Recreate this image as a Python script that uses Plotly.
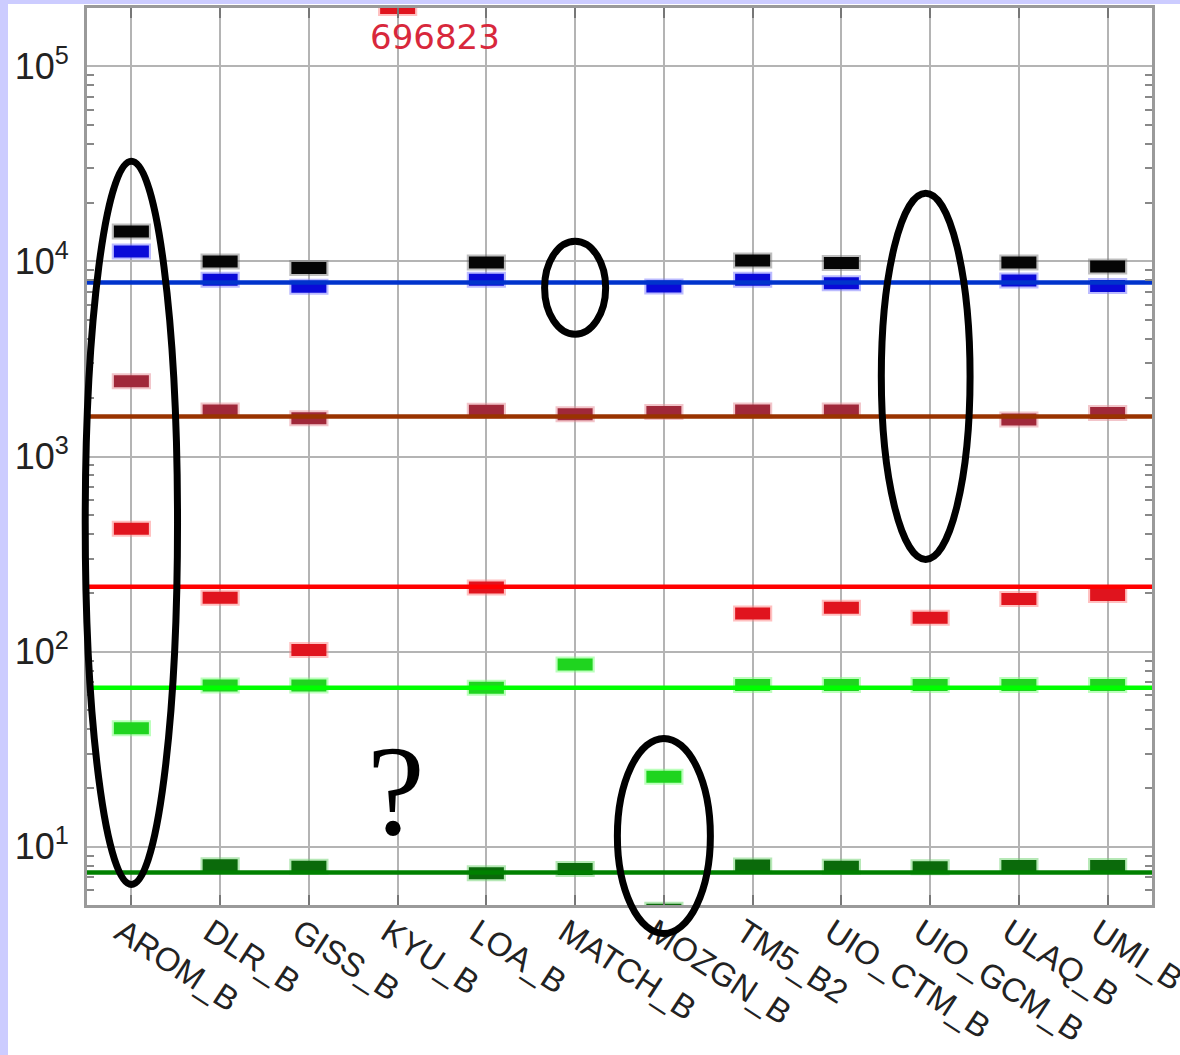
import math
import plotly.graph_objects as go

# ---- data -------------------------------------------------------------
models = ["AROM_B", "DLR_B", "GISS_B", "KYU_B", "LOA_B", "MATCH_B",
          "MOZGN_B", "TM5_B2", "UIO_CTM_B", "UIO_GCM_B", "ULAQ_B", "UMI_B"]

black_vals = [14250, 10000, 9250, None, 9880, None, None, 10120, 9810, None, 9880, 9430]
blue_vals = [11260, 8060, 7420, None, 8060, None, 7440, 8060, 7740, None, 7990, 7480]
brown_vals = [2430, 1720, 1570, None, 1715, 1650, 1690, 1720, 1720, None, 1550, 1670]
red_vals = [426, 189, 102, 696823, 213, None, None, 157, 168, 149, 186, 195]
green_vals = [40.5, 67, 67, None, 65.2, 86, 22.8, 67.5, 67.5, 67.5, 67.5, 67.5]
darkgreen_vals = [None, 8.03, 7.9, None, 7.31, 7.69, 4.75, 8.0, 7.9, 7.84, 7.95, 7.95]

# reference level for each quantity
ref_blue = 7800
ref_brown = 1603
ref_red = 215
ref_green = 65.3
ref_darkgreen = 7.38

y_ticks = [10, 100, 1000, 10000, 100000]
y_tick_text = ["10<sup>1</sup>", "10<sup>2</sup>", "10<sup>3</sup>",
               "10<sup>4</sup>", "10<sup>5</sup>"]

# ---- layout geometry --------------------------------------------------
W, H = 1180, 1055
M_L, M_R, M_T, M_B = 87, 28, 8, 150
LOG_MIN, LOG_MAX = 0.701, 5.2995
Y_TOP = 10 ** LOG_MAX
n = len(models)


def xpaper(xi):
    return (xi + 0.5) / n


def ypaper(v):
    return (math.log10(v) - LOG_MIN) / (LOG_MAX - LOG_MIN)


def pix_x(p):
    return (p - M_L) / (W - M_L - M_R)


def pix_y(p):
    return (H - M_B - p) / (H - M_T - M_B)


series = [
    ("black", black_vals, "#050505", "rgba(110,110,110,0.45)"),
    ("blue", blue_vals, "#0a0ad8", "rgba(120,120,255,0.5)"),
    ("brown", brown_vals, "#a0283a", "rgba(230,140,150,0.5)"),
    ("red", red_vals, "#e0141e", "rgba(255,130,130,0.5)"),
    ("green", green_vals, "#1fd41f", "rgba(120,255,120,0.5)"),
    ("darkgreen", darkgreen_vals, "#0b6a0b", "rgba(110,210,110,0.5)"),
]

refs = [
    (ref_blue, "#0033cc"),
    (ref_brown, "#993300"),
    (ref_red, "#ff0000"),
    (ref_green, "#00ff00"),
    (ref_darkgreen, "#008000"),
]

fig = go.Figure()

x_idx = list(range(n))
annotations = []
for name, vals, core, halo in series:
    xs = [i for i, v in zip(x_idx, vals) if v is not None]
    # values above the top of the axis are pinned to the frame and labelled
    ys = [min(v, Y_TOP) for v in vals if v is not None]
    fig.add_trace(go.Scatter(
        x=xs, y=ys, mode="markers", name=name + " halo", hoverinfo="skip",
        marker=dict(symbol="line-ew", size=28, line=dict(width=16, color=halo)),
    ))
    fig.add_trace(go.Scatter(
        x=xs, y=ys, mode="markers", name=name,
        marker=dict(symbol="line-ew", size=25, line=dict(width=12, color=core)),
    ))
    for i, v in zip(x_idx, vals):
        if v is not None and v > Y_TOP:
            annotations.append(dict(
                x=i, y=1, xref="x", yref="paper", text=str(v), showarrow=False,
                xanchor="center", yanchor="middle", xshift=37, yshift=-29,
                font=dict(family="DejaVu Sans", size=34, color="#d8283c"),
            ))

for level, color in refs:
    fig.add_trace(go.Scatter(
        x=[-0.5, n - 0.5], y=[level, level], mode="lines", hoverinfo="skip",
        line=dict(color=color, width=4.5), showlegend=False,
    ))

# question mark over the model without results
annotations.append(dict(
    x=3, y=math.log10(19.5), xref="x", yref="y", text="?", showarrow=False,
    xanchor="center", yanchor="middle", xshift=-2,
    font=dict(family="Liberation Serif", size=130, color="black"),
))

# highlighted groups (centre, half width, low value, high value)
ellipses = [
    (0.0, 0.52, 6.4, 32660),
    (5.0, 0.344, 4240, 12700),
    (8.95, 0.50, 297, 22400),
    (6.0, 0.524, 3.59, 35.9),
]
shapes = []
for cx, hw, lo, hi in ellipses:
    shapes.append(dict(
        type="circle", xref="paper", yref="paper",
        x0=xpaper(cx - hw), x1=xpaper(cx + hw), y0=ypaper(lo), y1=ypaper(hi),
        line=dict(color="black", width=7), fillcolor="rgba(0,0,0,0)", layer="above",
    ))

# lavender page edge along the left and top
lav = "#ccccff"
shapes.append(dict(type="rect", xref="paper", yref="paper", layer="below",
                   x0=pix_x(0), x1=pix_x(8), y0=pix_y(H), y1=pix_y(0),
                   line=dict(width=0), fillcolor=lav))
shapes.append(dict(type="rect", xref="paper", yref="paper", layer="below",
                   x0=pix_x(0), x1=pix_x(W), y0=pix_y(4), y1=pix_y(0),
                   line=dict(width=0), fillcolor=lav))

minor_vals = [m * 10 ** d for d in range(0, 6) for m in range(2, 10)]

fig.update_layout(
    width=W, height=H, autosize=False,
    margin=dict(l=M_L, r=M_R, t=M_T, b=M_B, pad=0),
    paper_bgcolor="white", plot_bgcolor="white",
    showlegend=False,
    shapes=shapes, annotations=annotations,
    xaxis=dict(
        range=[-0.5, n - 0.5], tickmode="array", tickvals=x_idx, ticktext=models,
        tickangle=33, tickfont=dict(family="Liberation Sans", size=33, color="#222"),
        ticklabelshift=-10, ticklabelstandoff=-8,
        ticklabeloverflow="allow", automargin=False,
        showgrid=True, gridcolor="#b4b4b4", gridwidth=2, zeroline=False,
        ticks="inside", ticklen=10, tickwidth=2, tickcolor="#777",
        showline=True, linecolor="#9a9a9a", linewidth=3, mirror="ticks",
    ),
    yaxis=dict(
        type="log", range=[LOG_MIN, LOG_MAX], tickmode="array",
        tickvals=y_ticks, ticktext=y_tick_text,
        tickfont=dict(family="Liberation Sans", size=36, color="#222"),
        showgrid=True, gridcolor="#b4b4b4", gridwidth=2, zeroline=False,
        ticks="", ticklabelstandoff=8, automargin=False,
        showline=True, linecolor="#9a9a9a", linewidth=3, mirror="ticks",
        minor=dict(tickvals=minor_vals, ticks="inside", ticklen=7, tickwidth=2,
                   tickcolor="#888", showgrid=False),
    ),
)

# the last rotated label runs past the right edge: crop it at the figure box
crop_js = ("var gd = document.getElementById('{plot_id}');"
           "gd.style.overflow = 'hidden';"
           "document.documentElement.style.overflow = 'hidden';"
           "document.body.style.overflow = 'hidden';")

fig.write_html("out.html", post_script=crop_js)
